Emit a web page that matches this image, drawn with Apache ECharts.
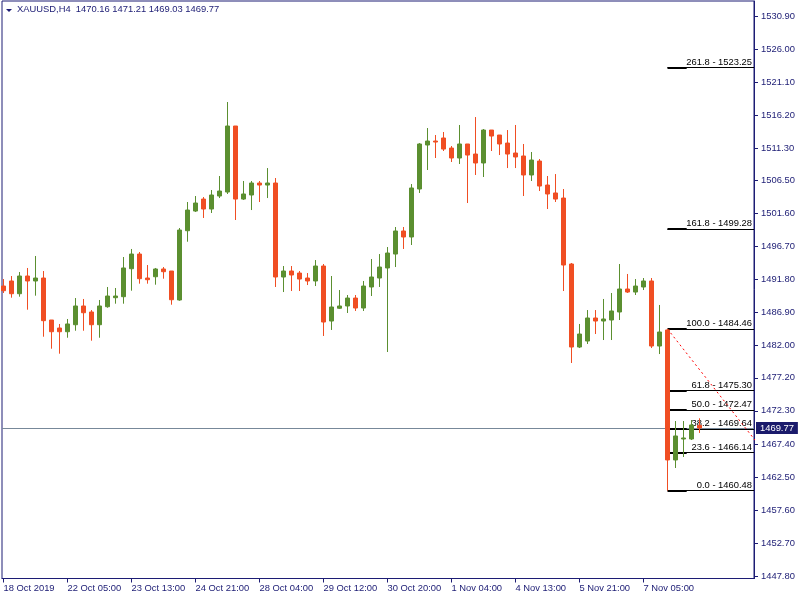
<!DOCTYPE html>
<html><head><meta charset="utf-8">
<script src="https://cdn.jsdelivr.net/npm/echarts@6/dist/echarts.min.js"></script>
<style>html,body{margin:0;padding:0;background:#fff}#c{width:800px;height:600px}</style>
</head><body><div id="c"></div>
<script>
const symbol = 'XAUUSD,H4';
const times = [
 '18 Oct 21:00','21 Oct 01:00','21 Oct 05:00','21 Oct 09:00','21 Oct 13:00','21 Oct 17:00','21 Oct 21:00',
 '22 Oct 01:00','22 Oct 05:00','22 Oct 09:00','22 Oct 13:00','22 Oct 17:00','22 Oct 21:00',
 '23 Oct 01:00','23 Oct 05:00','23 Oct 09:00','23 Oct 13:00','23 Oct 17:00','23 Oct 21:00',
 '24 Oct 01:00','24 Oct 05:00','24 Oct 09:00','24 Oct 13:00','24 Oct 17:00','24 Oct 21:00',
 '25 Oct 01:00','25 Oct 05:00','25 Oct 09:00','25 Oct 13:00','25 Oct 17:00','25 Oct 21:00',
 '28 Oct 00:00','28 Oct 04:00','28 Oct 08:00','28 Oct 12:00','28 Oct 16:00','28 Oct 20:00',
 '29 Oct 00:00','29 Oct 04:00','29 Oct 08:00','29 Oct 12:00','29 Oct 16:00','29 Oct 20:00',
 '30 Oct 00:00','30 Oct 04:00','30 Oct 08:00','30 Oct 12:00','30 Oct 16:00','30 Oct 20:00',
 '31 Oct 00:00','31 Oct 04:00','31 Oct 08:00','31 Oct 12:00','31 Oct 16:00','31 Oct 20:00',
 '1 Nov 00:00','1 Nov 04:00','1 Nov 08:00','1 Nov 12:00','1 Nov 16:00','1 Nov 20:00',
 '4 Nov 01:00','4 Nov 05:00','4 Nov 09:00','4 Nov 13:00','4 Nov 17:00','4 Nov 21:00',
 '5 Nov 01:00','5 Nov 05:00','5 Nov 09:00','5 Nov 13:00','5 Nov 17:00','5 Nov 21:00',
 '6 Nov 01:00','6 Nov 05:00','6 Nov 09:00','6 Nov 13:00','6 Nov 17:00','6 Nov 21:00',
 '7 Nov 01:00','7 Nov 05:00','7 Nov 09:00','7 Nov 13:00','7 Nov 17:00','7 Nov 21:00',
 '8 Nov 01:00','8 Nov 05:00','8 Nov 09:00'];
const opens = [1490.83,1491.58,1489.69,1492.32,1491.58,1492.02,1485.79,1484.60,1484.05,1485.09,
 1487.87,1486.98,1485.09,1487.76,1489.10,1489.25,1493.40,1495.58,1492.02,1492.21,
 1493.36,1493.06,1488.76,1499.04,1501.96,1503.74,1502.26,1504.19,1504.78,1514.58,
 1503.74,1504.34,1506.12,1505.82,1506.12,1492.17,1493.06,1492.76,1492.02,1491.58,
 1493.80,1485.64,1487.53,1487.87,1489.05,1487.57,1490.69,1492.02,1493.51,1495.58,
 1499.00,1498.11,1505.23,1511.76,1512.35,1512.80,1511.31,1509.83,1511.91,1510.42,
 1509.09,1513.98,1513.24,1512.05,1510.57,1510.13,1507.31,1509.38,1505.82,1504.64,
 1503.89,1494.10,1481.78,1482.67,1486.09,1485.64,1485.79,1486.98,1490.39,1489.94,
 1490.69,1491.58,1481.93,1484.31,1465.02,1468.13,1468.13,1470.16];
const highs = [1491.87,1492.32,1492.91,1493.51,1495.29,1493.06,1485.79,1485.20,1485.94,1489.05,
 1488.91,1487.27,1488.76,1490.69,1490.54,1495.14,1496.33,1495.88,1493.95,1493.51,
 1493.65,1493.06,1499.44,1503.30,1504.19,1504.04,1505.08,1507.16,1518.14,1514.58,
 1506.42,1506.42,1506.42,1508.34,1506.86,1493.80,1493.80,1493.06,1492.76,1494.69,
 1494.10,1492.32,1490.24,1489.50,1489.50,1491.58,1494.84,1495.58,1496.62,1499.59,
 1499.59,1505.97,1512.05,1514.28,1513.24,1513.69,1511.61,1514.73,1511.91,1515.91,
 1514.13,1513.98,1513.24,1513.98,1514.73,1511.91,1510.72,1509.68,1507.16,1507.45,
 1505.23,1494.25,1485.20,1487.27,1487.27,1488.91,1489.80,1494.10,1492.62,1491.87,
 1492.02,1492.02,1488.02,1484.46,1470.80,1470.80,1470.95,1471.21];
const lows = [1489.80,1489.10,1489.25,1487.32,1489.40,1483.31,1481.53,1480.79,1483.16,1484.20,
 1484.20,1482.72,1483.16,1487.61,1488.21,1488.21,1490.14,1491.18,1491.18,1491.03,
 1491.92,1488.06,1488.65,1497.41,1501.82,1500.93,1501.67,1503.89,1504.49,1500.63,
 1503.60,1502.11,1503.30,1503.89,1490.69,1489.94,1490.09,1490.09,1490.98,1490.83,
 1483.42,1484.31,1487.42,1486.83,1487.13,1487.13,1489.35,1490.69,1481.04,1493.65,
 1496.33,1496.92,1504.64,1508.05,1509.83,1510.87,1509.24,1508.94,1503.15,1507.31,
 1507.01,1510.87,1510.27,1508.34,1508.34,1504.19,1506.42,1504.93,1502.26,1503.30,
 1490.09,1479.41,1481.63,1482.23,1483.71,1482.82,1482.82,1485.79,1489.80,1489.50,
 1490.24,1481.63,1480.74,1460.48,1463.83,1465.46,1467.98,1469.03];
const closes = [1490.14,1489.69,1492.32,1491.58,1492.02,1485.69,1484.05,1484.05,1485.20,1487.87,
 1486.87,1485.09,1487.87,1489.35,1489.35,1493.51,1495.58,1491.92,1491.77,1493.36,
 1492.96,1488.80,1499.14,1502.11,1503.15,1502.26,1504.34,1504.93,1514.58,1503.74,
 1504.49,1506.12,1505.82,1506.12,1492.17,1493.06,1492.47,1491.87,1491.58,1493.80,
 1485.49,1487.72,1487.87,1489.05,1487.57,1490.83,1492.17,1493.65,1495.73,1499.00,
 1498.11,1505.38,1511.91,1512.35,1512.20,1511.16,1509.83,1511.91,1510.27,1509.09,
 1513.98,1513.09,1511.91,1510.42,1509.98,1507.31,1509.53,1505.67,1504.49,1503.74,
 1493.95,1481.78,1483.71,1486.09,1485.64,1485.94,1487.13,1490.39,1489.94,1490.83,
 1491.58,1481.93,1484.01,1465.02,1468.58,1468.28,1470.21,1469.77];
const xTickIdx = [0,8,16,24,32,40,48,56,64,72,80];
const xTickLabels = ['18 Oct 2019','22 Oct 05:00','23 Oct 13:00','24 Oct 21:00','28 Oct 04:00','29 Oct 12:00','30 Oct 20:00','1 Nov 04:00','4 Nov 13:00','5 Nov 21:00','7 Nov 05:00'];
const yTicks = [1447.80,1452.70,1457.60,1462.50,1467.40,1472.30,1477.20,1482.00,1486.90,1491.80,1496.70,1501.60,1506.50,1511.30,1516.20,1521.10,1526.00,1530.90];
const fibLevels = ['0.0','23.6','38.2','50.0','61.8','100.0','161.8','261.8'];
const fibPrices = [1460.48,1466.14,1469.64,1472.47,1475.30,1484.46,1499.28,1523.25];
const fibAnchorHigh = [83, 1484.46];
const fibAnchorLow = [98.9, 1460.48];

const NAVY = '#1c1c74';
const GREEN = '#5b8f30';
const RED = '#f04e23';
const FONT = '"Liberation Sans", Arial, sans-serif';
const FS = 9.4;
const xMin = -0.1875, xMax = 93.8125;
const last = closes.length - 1;
const bid = closes[last];

const candleData = opens.map((o, i) => [i, o, closes[i], lows[i], highs[i]]);

const fibLines = [];
fibPrices.forEach((p, i) => {
  fibLines.push([
    {coord: [fibAnchorHigh[0], p], lineStyle: {width: 1, color: '#000', type: 'solid'},
     label: {show: true, position: 'insideEndTop', formatter: fibLevels[i] + ' - ' + p.toFixed(2),
       color: '#000', fontSize: FS, fontFamily: FONT, distance: [2, 1]}},
    {coord: [xMax, p]}
  ]);
  fibLines.push([
    {coord: [fibAnchorHigh[0], p], lineStyle: {width: 2, color: '#000', type: 'solid'}, label: {show: false}},
    {coord: [85.4, p]}
  ]);
});

const chart = echarts.init(document.getElementById('c'), null, {renderer: 'canvas'});
chart.setOption({
  animation: false,
  backgroundColor: '#fff',
  title: {
    text: symbol + '  ' + [opens[last], highs[last], lows[last], closes[last]].map(v => v.toFixed(2)).join(' '),
    left: 17, top: 5, padding: 0,
    textStyle: {fontSize: FS, fontWeight: 'normal', color: NAVY, fontFamily: FONT}
  },
  graphic: [{type: 'polygon', shape: {points: [[6, 9], [12, 9], [9, 12]]}, style: {fill: NAVY}}],
  grid: {left: 2, right: 46, top: 1, bottom: 21.5, show: true, borderColor: NAVY, borderWidth: 1, backgroundColor: '#fff'},
  xAxis: {
    type: 'value', min: xMin, max: xMax,
    axisLine: {show: true, onZero: false, lineStyle: {color: NAVY}},
    axisTick: {show: true, length: 4, customValues: xTickIdx, lineStyle: {color: NAVY}},
    axisLabel: {customValues: xTickIdx, formatter: v => xTickLabels[xTickIdx.indexOf(v)],
      align: 'left', color: NAVY, fontSize: FS, fontFamily: FONT, margin: 5},
    splitLine: {show: false}
  },
  yAxis: {
    type: 'value', position: 'right', min: 1447.43, max: 1533.13,
    axisLine: {show: true, onZero: false, lineStyle: {color: NAVY}},
    axisTick: {show: true, length: 4, customValues: yTicks, lineStyle: {color: NAVY}},
    axisLabel: {customValues: yTicks, formatter: v => v.toFixed(2), color: NAVY, fontSize: FS, fontFamily: FONT, margin: 7},
    splitLine: {show: false}
  },
  series: [
    {
      type: 'line', data: [], z: 1,
      markLine: {
        silent: true, symbol: 'none', z: 1, animation: false,
        data: [
          {yAxis: bid, lineStyle: {color: '#778899', width: 1, type: 'solid'},
           label: {show: true, position: 'end', formatter: bid.toFixed(2), color: '#fff', backgroundColor: '#1a1a6b',
             padding: [2, 4, 1, 4], fontSize: FS, fontFamily: FONT, distance: 2}},
          ...fibLines
        ]
      }
    },
    {
      type: 'line', data: [fibAnchorHigh, fibAnchorLow], z: 2, symbol: 'none', clip: true,
      lineStyle: {color: '#ff0000', width: 1, type: [2, 3]}
    },
    {
      type: 'candlestick', z: 3, barWidth: 4, clip: true,
      data: candleData,
      itemStyle: {color: GREEN, color0: RED, borderColor: GREEN, borderColor0: RED, borderWidth: 1}
    }
  ]
});
</script></body></html>
